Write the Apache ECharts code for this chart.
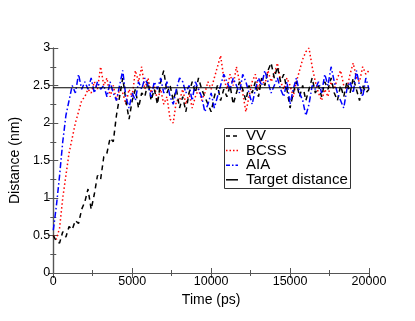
<!DOCTYPE html>
<html>
<head>
<meta charset="utf-8">
<script src="https://cdn.jsdelivr.net/npm/echarts@6/dist/echarts.min.js"></script>
<style>
html, body { margin: 0; padding: 0; background: #fff; }
#chart { width: 415px; height: 321px; }
</style>
</head>
<body>
<div id="chart"></div>
<script>
// sampled every 200 ps, 0..20000
var step = 200;
var vv = [
	0.50, 0.42, 0.40, 0.55, 0.48, 0.62, 0.58, 0.70, 0.66, 0.85,
	0.95, 1.12, 0.85, 1.05, 1.30, 1.25, 1.55, 1.60, 1.80, 1.75,
	2.10, 2.35, 2.60, 2.30, 2.05, 2.30, 2.45, 2.20, 2.40, 2.35,
	2.55, 2.30, 2.45, 2.25, 2.55, 2.70, 2.40, 2.50, 2.30, 2.45,
	2.20, 2.35, 2.15, 2.40, 2.55, 2.40, 2.60, 2.45, 2.35, 2.25,
	2.15, 2.35, 2.50, 2.30, 2.45, 2.35, 2.50, 2.25, 2.40, 2.55,
	2.45, 2.30, 2.50, 2.40, 2.55, 2.35, 2.60, 2.50, 2.70, 2.80,
	2.60, 2.75, 2.55, 2.65, 2.45, 2.20, 2.40, 2.55, 2.35, 2.50,
	2.30, 2.45, 2.60, 2.40, 2.50, 2.35, 2.55, 2.45, 2.60, 2.40,
	2.30, 2.50, 2.35, 2.55, 2.40, 2.60, 2.45, 2.30, 2.50, 2.40,
	2.45
];
var bcss = [
	0.50, 0.45, 0.60, 1.00, 1.30, 1.60, 1.80, 2.00, 2.15, 2.30,
	2.35, 2.45, 2.40, 2.55, 2.45, 2.75, 2.50, 2.60, 2.35, 2.50,
	2.30, 2.45, 2.40, 2.25, 2.45, 2.35, 2.70, 2.55, 2.75, 2.45,
	2.60, 2.40, 2.50, 2.30, 2.45, 2.25, 2.35, 2.05, 2.00, 2.30,
	2.30, 2.45, 2.25, 2.40, 2.20, 2.35, 2.45, 2.30, 2.40, 2.55,
	2.45, 2.60, 2.75, 2.90, 2.60, 2.45, 2.65, 2.50, 2.75, 2.55,
	2.40, 2.15, 2.35, 2.55, 2.65, 2.45, 2.60, 2.50, 2.70, 2.55,
	2.65, 2.80, 2.55, 2.45, 2.60, 2.50, 2.35, 2.55, 2.70, 2.85,
	2.95, 3.00, 2.75, 2.55, 2.40, 2.30, 2.45, 2.35, 2.55, 2.45,
	2.60, 2.70, 2.50, 2.45, 2.65, 2.80, 2.60, 2.55, 2.75, 2.65,
	2.70
];
var aia = [
	0.57, 0.90, 1.30, 1.75, 2.10, 2.30, 2.50, 2.40, 2.65, 2.45,
	2.55, 2.45, 2.60, 2.40, 2.55, 2.45, 2.50, 2.35, 2.55, 2.40,
	2.30, 2.50, 2.70, 2.35, 2.20, 2.40, 2.30, 2.55, 2.45, 2.60,
	2.50, 2.35, 2.55, 2.45, 2.60, 2.40, 2.55, 2.35, 2.25, 2.45,
	2.60, 2.55, 2.40, 2.50, 2.30, 2.55, 2.45, 2.35, 2.15, 2.25,
	2.40, 2.20, 2.35, 2.50, 2.65, 2.55, 2.45, 2.60, 2.50, 2.40,
	2.65, 2.55, 2.40, 2.25, 2.45, 2.60, 2.50, 2.70, 2.55, 2.40,
	2.50, 2.60, 2.45, 2.35, 2.55, 2.25, 2.45, 2.60, 2.40, 2.30,
	2.10, 2.25, 2.50, 2.45, 2.55, 2.40, 2.65, 2.50, 2.75, 2.55,
	2.40, 2.30, 2.20, 2.45, 2.55, 2.40, 2.70, 2.50, 2.35, 2.60,
	2.45
];
var target = 2.47;
var xTicks = [0, 5000, 10000, 15000, 20000];
var legendNames = ['VV', 'BCSS', 'AIA', 'Target distance'];

function pairs(arr) {
	var out = [];
	arr.forEach(function(v, i) {
		out.push([i * step, v]);
	});
	return out;
}

var dom = document.getElementById("chart");
var myChart = echarts.init(dom);
var font = 'Liberation Sans, Arial, sans-serif';
var axisColor = '#555';

var styles = [
	{ color: '#000', type: [5, 4], width: 1.5 },
	{ color: '#ff0000', type: [1.5, 2.5], width: 1.5 },
	{ color: '#0000ff', type: [6, 2.5, 1.5, 2.5], width: 1.5 },
	{ color: '#000', type: 'solid', width: 1.2 }
];
var legendDash = [[4, 3], [1.5, 2], [4, 2, 1.5, 2], null];

// hand-drawn legend box (xmgrace style)
var legendGraphic = [{
	type: 'rect',
	shape: { x: 224.5, y: 128.5, width: 126, height: 60 },
	style: { fill: '#fff', stroke: '#333', lineWidth: 1 },
	z: 10
}];
legendNames.forEach(function(n, i) {
	var y = 136 + i * 14.6;
	legendGraphic.push({
		type: 'line',
		shape: { x1: 226, y1: y, x2: 238, y2: y },
		style: { stroke: styles[i].color, lineWidth: 1.5, lineDash: legendDash[i] },
		z: 11
	});
	legendGraphic.push({
		type: 'text',
		x: 246,
		y: y,
		style: { text: n, fontSize: 15, fontFamily: font, fill: '#000', verticalAlign: 'middle' },
		z: 11
	});
});

var option = {
	animation: false,
	backgroundColor: '#fff',
	textStyle: { fontFamily: font },
	grid: {
		left: 48,
		right: 46,
		top: 48,
		bottom: 48
	},
	graphic: legendGraphic,
	xAxis: [{
		type: 'value',
		min: 0,
		max: 20000,
		interval: 5000,
		name: 'Time (ps)',
		nameLocation: 'middle',
		nameGap: 18,
		nameTextStyle: { fontSize: 14, color: '#000', fontFamily: font },
		axisLine: { lineStyle: { color: axisColor, width: 1.2 } },
		axisTick: { inside: true, length: 5, lineStyle: { color: axisColor } },
		minorTick: { show: true, splitNumber: 2, length: 3, lineStyle: { color: axisColor } },
		axisLabel: {
			fontSize: 12.5, color: '#000', margin: 2,
			formatter: function(v) { return xTicks.indexOf(v) >= 0 ? String(v) : ''; }
		},
		splitLine: { show: false }
	}, {
		type: 'value',
		position: 'top',
		min: 0,
		max: 20000,
		interval: 5000,
		axisLine: { lineStyle: { color: axisColor, width: 1.2 } },
		axisTick: { inside: true, length: 5, lineStyle: { color: axisColor } },
		minorTick: { show: true, splitNumber: 2, length: 3, lineStyle: { color: axisColor } },
		axisLabel: { show: false },
		splitLine: { show: false }
	}],
	yAxis: [{
		type: 'value',
		min: 0,
		max: 3,
		interval: 0.5,
		name: 'Distance (nm)',
		nameLocation: 'middle',
		nameGap: 27,
		nameTextStyle: { fontSize: 14, color: '#000', fontFamily: font },
		axisLine: { show: true, lineStyle: { color: axisColor, width: 1.2 } },
		axisTick: { show: true, inside: true, length: 5, lineStyle: { color: axisColor } },
		minorTick: { show: true, splitNumber: 2, length: 3, lineStyle: { color: axisColor } },
		axisLabel: { fontSize: 12.5, color: '#000', margin: 3 },
		splitLine: { show: false }
	}, {
		type: 'value',
		position: 'right',
		min: 0,
		max: 3,
		interval: 0.5,
		axisLine: { show: true, lineStyle: { color: axisColor, width: 1.2 } },
		axisTick: { show: true, inside: true, length: 5, lineStyle: { color: axisColor } },
		minorTick: { show: true, splitNumber: 2, length: 3, lineStyle: { color: axisColor } },
		axisLabel: { show: false },
		splitLine: { show: false }
	}],
	series: [{
		name: 'VV',
		type: 'line',
		data: pairs(vv),
		symbol: 'none',
		lineStyle: styles[0],
		z: 3
	}, {
		name: 'BCSS',
		type: 'line',
		data: pairs(bcss),
		symbol: 'none',
		lineStyle: styles[1],
		z: 2
	}, {
		name: 'AIA',
		type: 'line',
		data: pairs(aia),
		symbol: 'none',
		lineStyle: styles[2],
		z: 4
	}, {
		name: 'Target distance',
		type: 'line',
		data: [[0, target], [20000, target]],
		symbol: 'none',
		lineStyle: styles[3],
		z: 5
	}]
};

if(option && typeof option === "object") {
	myChart.setOption(option, true);
}
</script>
</body>
</html>
